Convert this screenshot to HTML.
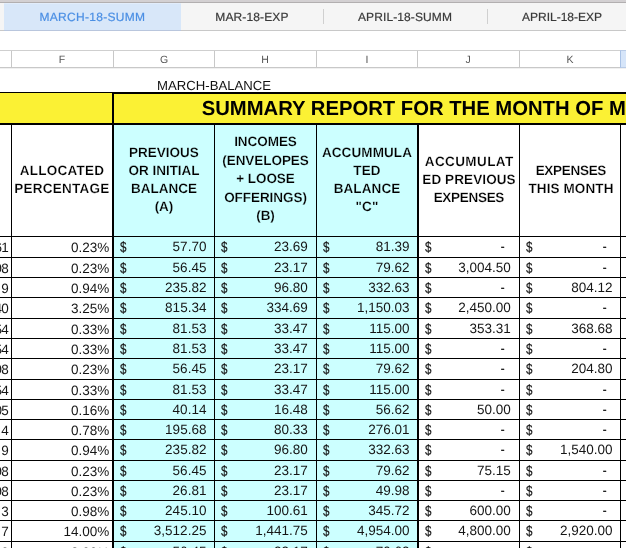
<!DOCTYPE html><html><head><meta charset="utf-8"><title>sheet</title><style>
html,body{margin:0;padding:0;}
body{text-rendering:geometricPrecision;width:626px;height:548px;overflow:hidden;background:#fff;position:relative;font-family:"Liberation Sans",sans-serif;color:#111;}
#w{position:absolute;left:0;top:0;width:626px;height:548px;overflow:hidden;will-change:transform;}
.a{position:absolute;}
.tabbar{left:0;top:0;width:626px;height:30px;background:#f5f5f5;}
.topstrip{left:0;top:0;width:626px;height:3px;background:linear-gradient(#d3d0d2 0,#d3d0d2 2px,#b2afb0 2px,#b2afb0 3px);}
.tabline{left:0;top:30px;width:626px;height:1px;background:#c8c8c8;}
.seltab{left:4px;top:3px;width:177px;height:28px;background:#d8e7f9;border-top:1px solid #e2edfb;border-bottom:1px solid #b9c6dd;box-sizing:border-box;}
.tab{top:3px;height:27px;line-height:28px;font-size:12px;color:#3a3a3a;white-space:nowrap;-webkit-text-stroke:0.2px #3a3a3a;}
.tsep{top:9px;width:1px;height:15px;background:#d0d0d0;}
.chead{left:0;top:50px;width:626px;height:18px;box-sizing:border-box;border-top:1px solid #cfcfcf;border-bottom:1px solid #c8c8c8;background:#fff;}
.csep{top:51px;width:1px;height:16px;background:#c8c8c8;}
.cl{top:51.6px;height:16px;line-height:16px;font-size:10.5px;color:#555;text-align:center;width:20px;margin-left:-10px;}
.yellow{background:#fbf134;}
.cy{background:#ccffff;}
.bk{background:#000;}
.hc{display:flex;align-items:center;justify-content:center;text-align:center;font-weight:bold;font-size:13.5px;line-height:18px;letter-spacing:0.1px;color:#000;white-space:nowrap;}
.row{left:0;width:626px;height:20px;line-height:20px;font-size:13.5px;white-space:nowrap;color:#151515;}
.row span{position:absolute;top:0;}
.row span.m{top:-0.8px;transform:scaleX(0.85);transform-origin:100% 50%;-webkit-text-stroke:0.3px #151515;}
.row span.d{top:-0.5px;transform:scale(0.86,1.1);transform-origin:0 52%;-webkit-text-stroke:0.15px #151515;}
</style></head><body><div id="w">
<div class="a tabbar"></div><div class="a topstrip"></div>
<div class="a tabline"></div>
<div class="a seltab"></div>
<div class="a tab" style="left:39.5px;color:#4b8fe4;letter-spacing:0.3px;-webkit-text-stroke:0.2px #4b8fe4;">MARCH-18-SUMM</div>
<div class="a tab" style="left:215.3px;letter-spacing:0.12px;">MAR-18-EXP</div>
<div class="a tab" style="left:358px;letter-spacing:0.1px;">APRIL-18-SUMM</div>
<div class="a tab" style="left:522px;">APRIL-18-EXP</div>
<div class="a tsep" style="left:323px;"></div><div class="a tsep" style="left:487px;"></div>
<div class="a chead"></div>
<div class="a csep" style="left:11px;"></div>
<div class="a csep" style="left:113px;"></div>
<div class="a csep" style="left:214px;"></div>
<div class="a csep" style="left:316px;"></div>
<div class="a csep" style="left:417px;"></div>
<div class="a csep" style="left:519px;"></div>
<div class="a" style="left:620px;top:50px;width:6px;height:18px;background:#d6e5f9;border-left:1px solid #a9c2e6;border-top:1px solid #b9cbe6;border-bottom:1px solid #b9cbe6;box-sizing:border-box;"></div>
<div class="a cl" style="left:62px;">F</div>
<div class="a cl" style="left:164px;">G</div>
<div class="a cl" style="left:265px;">H</div>
<div class="a cl" style="left:367px;">I</div>
<div class="a cl" style="left:468px;">J</div>
<div class="a cl" style="left:570px;">K</div>
<div class="a" style="left:0;top:68px;width:626px;height:1px;background:#f0f0f0;"></div>
<div class="a" style="left:157.1px;top:76.7px;height:18px;line-height:18px;font-size:13.15px;color:#111;white-space:nowrap;">MARCH-BALANCE</div>
<div class="a yellow" style="left:0;top:92px;width:626px;height:33px;"></div>
<div class="a bk" style="left:0;top:92px;width:112px;height:1px;"></div>
<div class="a bk" style="left:112px;top:92px;width:514px;height:2px;"></div>
<div class="a bk" style="left:0;top:123px;width:626px;height:2px;"></div>
<div class="a" style="left:201.7px;top:94.6px;height:28px;line-height:28px;font-size:20.25px;font-weight:bold;color:#000;white-space:nowrap;">SUMMARY REPORT FOR THE MONTH OF M</div>
<div class="a cy" style="left:114px;top:125px;width:303px;height:423px;"></div>
<div class="a bk" style="left:11px;top:124px;width:1px;height:424px;"></div>
<div class="a bk" style="left:112px;top:92px;width:2px;height:456px;"></div>
<div class="a bk" style="left:214px;top:124px;width:1px;height:424px;"></div>
<div class="a bk" style="left:316px;top:124px;width:1px;height:424px;"></div>
<div class="a bk" style="left:417px;top:124px;width:2px;height:424px;"></div>
<div class="a bk" style="left:519px;top:124px;width:1px;height:424px;"></div>
<div class="a bk" style="left:620px;top:124px;width:1px;height:424px;"></div>
<div class="a bk" style="left:0;top:236px;width:626px;height:1px;"></div>
<div class="a bk" style="left:0;top:257px;width:626px;height:1px;"></div>
<div class="a bk" style="left:0;top:277px;width:626px;height:1px;"></div>
<div class="a bk" style="left:0;top:297px;width:626px;height:1px;"></div>
<div class="a bk" style="left:0;top:318px;width:626px;height:1px;"></div>
<div class="a bk" style="left:0;top:338px;width:626px;height:1px;"></div>
<div class="a bk" style="left:0;top:358px;width:626px;height:1px;"></div>
<div class="a bk" style="left:0;top:379px;width:626px;height:1px;"></div>
<div class="a bk" style="left:0;top:399px;width:626px;height:1px;"></div>
<div class="a bk" style="left:0;top:419px;width:626px;height:1px;"></div>
<div class="a bk" style="left:0;top:439px;width:626px;height:1px;"></div>
<div class="a bk" style="left:0;top:460px;width:626px;height:1px;"></div>
<div class="a bk" style="left:0;top:480px;width:626px;height:1px;"></div>
<div class="a bk" style="left:0;top:500px;width:626px;height:1px;"></div>
<div class="a bk" style="left:0;top:520px;width:626px;height:1px;"></div>
<div class="a bk" style="left:0;top:541px;width:626px;height:1px;"></div>
<div class="a hc" style="left:12px;top:124px;width:100px;height:112px;letter-spacing:0.25px;-webkit-text-stroke:0.2px #fff;"><div>ALLOCATED<br>PERCENTAGE</div></div>
<div class="a hc" style="left:114px;top:123.5px;width:100px;height:112px;letter-spacing:0;-webkit-text-stroke:0.2px #ccffff;"><div>PREVIOUS<br>OR INITIAL<br>BALANCE<br>(A)</div></div>
<div class="a hc" style="left:215px;top:123.5px;width:101px;height:112px;letter-spacing:-0.05px;line-height:18.5px;-webkit-text-stroke:0.2px #ccffff;"><div>INCOMES<br>(ENVELOPES<br>+ LOOSE<br>OFFERINGS)<br>(B)</div></div>
<div class="a hc" style="left:317px;top:124px;width:100px;height:112px;-webkit-text-stroke:0.2px #ccffff;"><div>ACCUMMULA<br>TED<br>BALANCE<br>&quot;C&quot;</div></div>
<div class="a hc" style="left:419px;top:124px;width:100px;height:112px;-webkit-text-stroke:0.2px #fff;"><div><span style="letter-spacing:0.4px;margin-right:-0.4px;">ACCUMULAT</span><br>ED PREVIOUS<br><span style="letter-spacing:-0.3px;margin-right:0.3px;">EXPENSES</span></div></div>
<div class="a hc" style="left:521px;top:124px;width:100px;height:112px;-webkit-text-stroke:0.2px #fff;"><div><span style="letter-spacing:-0.3px;margin-right:0.3px;">EXPENSES</span><br>THIS MONTH</div></div>
<div class="a row" style="top:238px;"><span style="right:618px;letter-spacing:-0.7px;">61</span><span style="right:516.8px;">0.23%</span><span class="d" style="left:119.6px;">$</span><span style="top:-0.8px;right:419.6px;">57.70</span><span class="d" style="left:220.6px;">$</span><span style="top:-0.8px;right:318.2px;">23.69</span><span class="d" style="left:322.6px;">$</span><span style="top:-0.8px;right:216.5px;">81.39</span><span class="d" style="left:425.1px;">$</span><span class="m" style="right:121.2px;">-</span><span class="d" style="left:526.1px;">$</span><span class="m" style="right:19.5px;">-</span></div>
<div class="a row" style="top:259px;"><span style="right:618px;letter-spacing:-0.7px;">98</span><span style="right:516.8px;">0.23%</span><span class="d" style="left:119.6px;">$</span><span style="top:-0.8px;right:419.6px;">56.45</span><span class="d" style="left:220.6px;">$</span><span style="top:-0.8px;right:318.2px;">23.17</span><span class="d" style="left:322.6px;">$</span><span style="top:-0.8px;right:216.5px;">79.62</span><span class="d" style="left:425.1px;">$</span><span style="top:-0.8px;right:115.2px;">3,004.50</span><span class="d" style="left:526.1px;">$</span><span class="m" style="right:19.5px;">-</span></div>
<div class="a row" style="top:279px;"><span style="right:618px;letter-spacing:-0.7px;">&nbsp;9</span><span style="right:516.8px;">0.94%</span><span class="d" style="left:119.6px;">$</span><span style="top:-0.8px;right:419.6px;">235.82</span><span class="d" style="left:220.6px;">$</span><span style="top:-0.8px;right:318.2px;">96.80</span><span class="d" style="left:322.6px;">$</span><span style="top:-0.8px;right:216.5px;">332.63</span><span class="d" style="left:425.1px;">$</span><span class="m" style="right:121.2px;">-</span><span class="d" style="left:526.1px;">$</span><span style="top:-0.8px;right:13.5px;">804.12</span></div>
<div class="a row" style="top:299px;"><span style="right:618px;letter-spacing:-0.7px;">40</span><span style="right:516.8px;">3.25%</span><span class="d" style="left:119.6px;">$</span><span style="top:-0.8px;right:419.6px;">815.34</span><span class="d" style="left:220.6px;">$</span><span style="top:-0.8px;right:318.2px;">334.69</span><span class="d" style="left:322.6px;">$</span><span style="top:-0.8px;right:216.5px;">1,150.03</span><span class="d" style="left:425.1px;">$</span><span style="top:-0.8px;right:115.2px;">2,450.00</span><span class="d" style="left:526.1px;">$</span><span class="m" style="right:19.5px;">-</span></div>
<div class="a row" style="top:320px;"><span style="right:618px;letter-spacing:-0.7px;">54</span><span style="right:516.8px;">0.33%</span><span class="d" style="left:119.6px;">$</span><span style="top:-0.8px;right:419.6px;">81.53</span><span class="d" style="left:220.6px;">$</span><span style="top:-0.8px;right:318.2px;">33.47</span><span class="d" style="left:322.6px;">$</span><span style="top:-0.8px;right:216.5px;">115.00</span><span class="d" style="left:425.1px;">$</span><span style="top:-0.8px;right:115.2px;">353.31</span><span class="d" style="left:526.1px;">$</span><span style="top:-0.8px;right:13.5px;">368.68</span></div>
<div class="a row" style="top:340px;"><span style="right:618px;letter-spacing:-0.7px;">54</span><span style="right:516.8px;">0.33%</span><span class="d" style="left:119.6px;">$</span><span style="top:-0.8px;right:419.6px;">81.53</span><span class="d" style="left:220.6px;">$</span><span style="top:-0.8px;right:318.2px;">33.47</span><span class="d" style="left:322.6px;">$</span><span style="top:-0.8px;right:216.5px;">115.00</span><span class="d" style="left:425.1px;">$</span><span class="m" style="right:121.2px;">-</span><span class="d" style="left:526.1px;">$</span><span class="m" style="right:19.5px;">-</span></div>
<div class="a row" style="top:360px;"><span style="right:618px;letter-spacing:-0.7px;">98</span><span style="right:516.8px;">0.23%</span><span class="d" style="left:119.6px;">$</span><span style="top:-0.8px;right:419.6px;">56.45</span><span class="d" style="left:220.6px;">$</span><span style="top:-0.8px;right:318.2px;">23.17</span><span class="d" style="left:322.6px;">$</span><span style="top:-0.8px;right:216.5px;">79.62</span><span class="d" style="left:425.1px;">$</span><span class="m" style="right:121.2px;">-</span><span class="d" style="left:526.1px;">$</span><span style="top:-0.8px;right:13.5px;">204.80</span></div>
<div class="a row" style="top:381px;"><span style="right:618px;letter-spacing:-0.7px;">54</span><span style="right:516.8px;">0.33%</span><span class="d" style="left:119.6px;">$</span><span style="top:-0.8px;right:419.6px;">81.53</span><span class="d" style="left:220.6px;">$</span><span style="top:-0.8px;right:318.2px;">33.47</span><span class="d" style="left:322.6px;">$</span><span style="top:-0.8px;right:216.5px;">115.00</span><span class="d" style="left:425.1px;">$</span><span class="m" style="right:121.2px;">-</span><span class="d" style="left:526.1px;">$</span><span class="m" style="right:19.5px;">-</span></div>
<div class="a row" style="top:401px;"><span style="right:618px;letter-spacing:-0.7px;">05</span><span style="right:516.8px;">0.16%</span><span class="d" style="left:119.6px;">$</span><span style="top:-0.8px;right:419.6px;">40.14</span><span class="d" style="left:220.6px;">$</span><span style="top:-0.8px;right:318.2px;">16.48</span><span class="d" style="left:322.6px;">$</span><span style="top:-0.8px;right:216.5px;">56.62</span><span class="d" style="left:425.1px;">$</span><span style="top:-0.8px;right:115.2px;">50.00</span><span class="d" style="left:526.1px;">$</span><span class="m" style="right:19.5px;">-</span></div>
<div class="a row" style="top:421px;"><span style="right:618px;letter-spacing:-0.7px;">&nbsp;4</span><span style="right:516.8px;">0.78%</span><span class="d" style="left:119.6px;">$</span><span style="top:-0.8px;right:419.6px;">195.68</span><span class="d" style="left:220.6px;">$</span><span style="top:-0.8px;right:318.2px;">80.33</span><span class="d" style="left:322.6px;">$</span><span style="top:-0.8px;right:216.5px;">276.01</span><span class="d" style="left:425.1px;">$</span><span class="m" style="right:121.2px;">-</span><span class="d" style="left:526.1px;">$</span><span class="m" style="right:19.5px;">-</span></div>
<div class="a row" style="top:441px;"><span style="right:618px;letter-spacing:-0.7px;">&nbsp;9</span><span style="right:516.8px;">0.94%</span><span class="d" style="left:119.6px;">$</span><span style="top:-0.8px;right:419.6px;">235.82</span><span class="d" style="left:220.6px;">$</span><span style="top:-0.8px;right:318.2px;">96.80</span><span class="d" style="left:322.6px;">$</span><span style="top:-0.8px;right:216.5px;">332.63</span><span class="d" style="left:425.1px;">$</span><span class="m" style="right:121.2px;">-</span><span class="d" style="left:526.1px;">$</span><span style="top:-0.8px;right:13.5px;">1,540.00</span></div>
<div class="a row" style="top:462px;"><span style="right:618px;letter-spacing:-0.7px;">98</span><span style="right:516.8px;">0.23%</span><span class="d" style="left:119.6px;">$</span><span style="top:-0.8px;right:419.6px;">56.45</span><span class="d" style="left:220.6px;">$</span><span style="top:-0.8px;right:318.2px;">23.17</span><span class="d" style="left:322.6px;">$</span><span style="top:-0.8px;right:216.5px;">79.62</span><span class="d" style="left:425.1px;">$</span><span style="top:-0.8px;right:115.2px;">75.15</span><span class="d" style="left:526.1px;">$</span><span class="m" style="right:19.5px;">-</span></div>
<div class="a row" style="top:482px;"><span style="right:618px;letter-spacing:-0.7px;">98</span><span style="right:516.8px;">0.23%</span><span class="d" style="left:119.6px;">$</span><span style="top:-0.8px;right:419.6px;">26.81</span><span class="d" style="left:220.6px;">$</span><span style="top:-0.8px;right:318.2px;">23.17</span><span class="d" style="left:322.6px;">$</span><span style="top:-0.8px;right:216.5px;">49.98</span><span class="d" style="left:425.1px;">$</span><span class="m" style="right:121.2px;">-</span><span class="d" style="left:526.1px;">$</span><span class="m" style="right:19.5px;">-</span></div>
<div class="a row" style="top:502px;"><span style="right:618px;letter-spacing:-0.7px;">&nbsp;3</span><span style="right:516.8px;">0.98%</span><span class="d" style="left:119.6px;">$</span><span style="top:-0.8px;right:419.6px;">245.10</span><span class="d" style="left:220.6px;">$</span><span style="top:-0.8px;right:318.2px;">100.61</span><span class="d" style="left:322.6px;">$</span><span style="top:-0.8px;right:216.5px;">345.72</span><span class="d" style="left:425.1px;">$</span><span style="top:-0.8px;right:115.2px;">600.00</span><span class="d" style="left:526.1px;">$</span><span class="m" style="right:19.5px;">-</span></div>
<div class="a row" style="top:522px;"><span style="right:618px;letter-spacing:-0.7px;">&nbsp;7</span><span style="right:516.8px;">14.00%</span><span class="d" style="left:119.6px;">$</span><span style="top:-0.8px;right:419.6px;">3,512.25</span><span class="d" style="left:220.6px;">$</span><span style="top:-0.8px;right:318.2px;">1,441.75</span><span class="d" style="left:322.6px;">$</span><span style="top:-0.8px;right:216.5px;">4,954.00</span><span class="d" style="left:425.1px;">$</span><span style="top:-0.8px;right:115.2px;">4,800.00</span><span class="d" style="left:526.1px;">$</span><span style="top:-0.8px;right:13.5px;">2,920.00</span></div>
<div class="a row" style="top:543px;"><span style="right:618px;letter-spacing:-0.7px;">98</span><span style="right:516.8px;">0.23%</span><span class="d" style="left:119.6px;">$</span><span style="top:-0.8px;right:419.6px;">56.45</span><span class="d" style="left:220.6px;">$</span><span style="top:-0.8px;right:318.2px;">23.17</span><span class="d" style="left:322.6px;">$</span><span style="top:-0.8px;right:216.5px;">79.62</span><span class="d" style="left:425.1px;">$</span><span class="m" style="right:121.2px;">-</span><span class="d" style="left:526.1px;">$</span><span class="m" style="right:19.5px;">-</span></div>
</div></body></html>
